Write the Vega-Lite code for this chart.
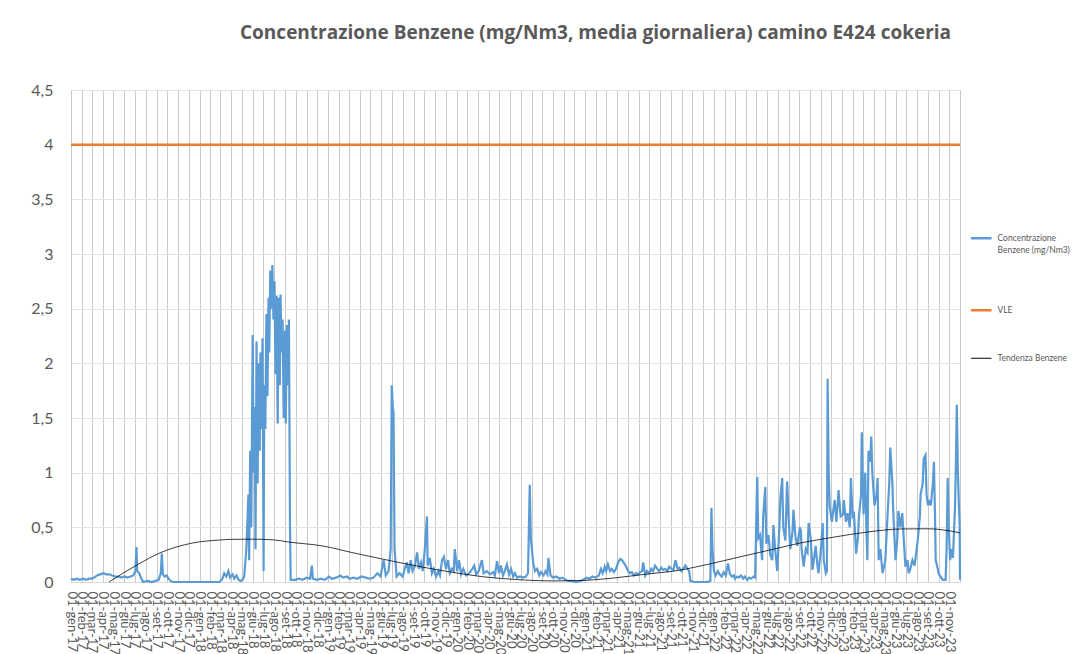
{
  "$schema": "https://vega.github.io/schema/vega-lite/v6.json",
  "autosize": {"type": "none"},
  "padding": {"left": 71, "top": 90, "right": 120, "bottom": 72},
  "width": 889,
  "height": 492,
  "background": "white",
  "title": {
    "text": "Concentrazione Benzene (mg/Nm3, media giornaliera) camino E424 cokeria",
    "anchor": "start", "frame": "group", "dx": 169, "offset": 24,
    "baseline": "alphabetic",
    "font": "Open Sans", "fontSize": 19, "fontWeight": "bold", "color": "#595959"
  },
  "datasets": {
    "misure": [
      {"data":"2017-01-01","valore":0.03},{"data":"2017-01-09","valore":0.02},{"data":"2017-01-17","valore":0.03},{"data":"2017-01-26","valore":0.02},
      {"data":"2017-02-04","valore":0.03},{"data":"2017-02-13","valore":0.02},{"data":"2017-02-21","valore":0.03},{"data":"2017-02-28","valore":0.03},
      {"data":"2017-03-08","valore":0.04},{"data":"2017-03-16","valore":0.06},{"data":"2017-03-25","valore":0.07},{"data":"2017-04-03","valore":0.08},
      {"data":"2017-04-11","valore":0.07},{"data":"2017-04-20","valore":0.07},{"data":"2017-04-28","valore":0.06},{"data":"2017-05-07","valore":0.05},
      {"data":"2017-05-15","valore":0.05},{"data":"2017-05-24","valore":0.04},{"data":"2017-06-02","valore":0.05},{"data":"2017-06-10","valore":0.04},
      {"data":"2017-06-19","valore":0.05},{"data":"2017-06-27","valore":0.06},{"data":"2017-07-03","valore":0.1},{"data":"2017-07-06","valore":0.32},
      {"data":"2017-07-08","valore":0.1},{"data":"2017-07-14","valore":0.08},{"data":"2017-07-20","valore":0.03},{"data":"2017-07-25","valore":0.0},
      {"data":"2017-08-06","valore":0.01},{"data":"2017-08-18","valore":0.0},{"data":"2017-08-29","valore":0.01},{"data":"2017-09-07","valore":0.02},
      {"data":"2017-09-13","valore":0.08},{"data":"2017-09-16","valore":0.26},{"data":"2017-09-19","valore":0.07},{"data":"2017-09-24","valore":0.05},
      {"data":"2017-09-30","valore":0.06},{"data":"2017-10-05","valore":0.03},{"data":"2017-10-11","valore":0.01},{"data":"2017-10-17","valore":0.0},
      {"data":"2017-11-06","valore":0.0},{"data":"2017-12-04","valore":0.0},{"data":"2018-01-02","valore":0.0},{"data":"2018-01-30","valore":0.0},
      {"data":"2018-02-27","valore":0.0},{"data":"2018-03-07","valore":0.03},{"data":"2018-03-12","valore":0.08},{"data":"2018-03-18","valore":0.05},
      {"data":"2018-03-24","valore":0.1},{"data":"2018-03-29","valore":0.04},{"data":"2018-04-05","valore":0.07},{"data":"2018-04-10","valore":0.03},
      {"data":"2018-04-16","valore":0.06},{"data":"2018-04-22","valore":0.02},{"data":"2018-04-27","valore":0.01},{"data":"2018-05-03","valore":0.02},
      {"data":"2018-05-08","valore":0.05},{"data":"2018-05-14","valore":0.3},{"data":"2018-05-20","valore":0.8},{"data":"2018-05-22","valore":0.2},
      {"data":"2018-05-25","valore":1.2},{"data":"2018-05-28","valore":0.5},{"data":"2018-06-01","valore":2.26},{"data":"2018-06-04","valore":1.0},
      {"data":"2018-06-07","valore":1.6},{"data":"2018-06-09","valore":0.3},{"data":"2018-06-12","valore":2.2},{"data":"2018-06-15","valore":0.9},
      {"data":"2018-06-18","valore":2.0},{"data":"2018-06-21","valore":1.2},{"data":"2018-06-23","valore":2.1},{"data":"2018-06-26","valore":1.4},
      {"data":"2018-06-29","valore":2.23},{"data":"2018-07-02","valore":0.1},{"data":"2018-07-04","valore":1.8},{"data":"2018-07-07","valore":1.4},
      {"data":"2018-07-10","valore":2.45},{"data":"2018-07-13","valore":1.7},{"data":"2018-07-16","valore":2.6},{"data":"2018-07-18","valore":2.1},
      {"data":"2018-07-21","valore":2.85},{"data":"2018-07-24","valore":2.5},{"data":"2018-07-27","valore":2.9},{"data":"2018-07-30","valore":2.4},
      {"data":"2018-08-02","valore":2.75},{"data":"2018-08-05","valore":1.9},{"data":"2018-08-08","valore":2.62},{"data":"2018-08-11","valore":1.45},
      {"data":"2018-08-14","valore":2.6},{"data":"2018-08-17","valore":1.8},{"data":"2018-08-19","valore":2.63},{"data":"2018-08-22","valore":2.1},
      {"data":"2018-08-25","valore":2.4},{"data":"2018-08-28","valore":1.5},{"data":"2018-09-01","valore":2.3},{"data":"2018-09-03","valore":1.45},
      {"data":"2018-09-06","valore":2.35},{"data":"2018-09-09","valore":1.8},{"data":"2018-09-12","valore":2.4},{"data":"2018-09-15","valore":0.5},
      {"data":"2018-09-17","valore":0.02},{"data":"2018-09-29","valore":0.02},{"data":"2018-10-10","valore":0.03},{"data":"2018-10-21","valore":0.02},
      {"data":"2018-11-02","valore":0.04},{"data":"2018-11-11","valore":0.03},{"data":"2018-11-16","valore":0.15},{"data":"2018-11-19","valore":0.03},
      {"data":"2018-11-30","valore":0.02},{"data":"2018-12-11","valore":0.03},{"data":"2018-12-23","valore":0.02},{"data":"2019-01-04","valore":0.05},
      {"data":"2019-01-12","valore":0.03},{"data":"2019-01-24","valore":0.04},{"data":"2019-02-05","valore":0.06},{"data":"2019-02-13","valore":0.04},
      {"data":"2019-02-24","valore":0.05},{"data":"2019-03-03","valore":0.03},{"data":"2019-03-14","valore":0.04},{"data":"2019-03-25","valore":0.03},
      {"data":"2019-04-06","valore":0.05},{"data":"2019-04-18","valore":0.04},{"data":"2019-04-29","valore":0.03},{"data":"2019-05-10","valore":0.04},
      {"data":"2019-05-21","valore":0.08},{"data":"2019-05-30","valore":0.05},{"data":"2019-06-08","valore":0.2},{"data":"2019-06-14","valore":0.06},
      {"data":"2019-06-22","valore":0.1},{"data":"2019-06-28","valore":0.3},{"data":"2019-07-01","valore":1.8},{"data":"2019-07-04","valore":1.6},
      {"data":"2019-07-06","valore":1.55},{"data":"2019-07-09","valore":0.3},{"data":"2019-07-15","valore":0.05},{"data":"2019-07-23","valore":0.08},
      {"data":"2019-08-01","valore":0.05},{"data":"2019-08-07","valore":0.12},{"data":"2019-08-13","valore":0.18},{"data":"2019-08-18","valore":0.08},
      {"data":"2019-08-24","valore":0.2},{"data":"2019-08-29","valore":0.1},{"data":"2019-09-05","valore":0.15},{"data":"2019-09-11","valore":0.27},
      {"data":"2019-09-16","valore":0.12},{"data":"2019-09-22","valore":0.18},{"data":"2019-09-27","valore":0.1},{"data":"2019-10-03","valore":0.3},
      {"data":"2019-10-09","valore":0.6},{"data":"2019-10-11","valore":0.15},{"data":"2019-10-17","valore":0.22},{"data":"2019-10-23","valore":0.08},
      {"data":"2019-10-28","valore":0.12},{"data":"2019-11-04","valore":0.05},{"data":"2019-11-10","valore":0.1},{"data":"2019-11-15","valore":0.06},
      {"data":"2019-11-21","valore":0.2},{"data":"2019-11-26","valore":0.23},{"data":"2019-12-02","valore":0.12},{"data":"2019-12-08","valore":0.2},
      {"data":"2019-12-13","valore":0.08},{"data":"2019-12-19","valore":0.12},{"data":"2019-12-24","valore":0.1},{"data":"2019-12-27","valore":0.3},
      {"data":"2020-01-03","valore":0.1},{"data":"2020-01-08","valore":0.2},{"data":"2020-01-14","valore":0.07},{"data":"2020-01-20","valore":0.12},
      {"data":"2020-01-28","valore":0.06},{"data":"2020-02-06","valore":0.08},{"data":"2020-02-15","valore":0.12},{"data":"2020-02-20","valore":0.15},
      {"data":"2020-02-26","valore":0.07},{"data":"2020-03-04","valore":0.1},{"data":"2020-03-13","valore":0.2},{"data":"2020-03-18","valore":0.08},
      {"data":"2020-03-27","valore":0.1},{"data":"2020-04-05","valore":0.07},{"data":"2020-04-14","valore":0.09},{"data":"2020-04-19","valore":0.06},
      {"data":"2020-04-25","valore":0.19},{"data":"2020-05-01","valore":0.08},{"data":"2020-05-06","valore":0.15},{"data":"2020-05-12","valore":0.06},
      {"data":"2020-05-17","valore":0.1},{"data":"2020-05-23","valore":0.16},{"data":"2020-05-29","valore":0.07},{"data":"2020-06-04","valore":0.12},
      {"data":"2020-06-10","valore":0.05},{"data":"2020-06-15","valore":0.08},{"data":"2020-06-21","valore":0.04},{"data":"2020-06-29","valore":0.05},
      {"data":"2020-07-08","valore":0.04},{"data":"2020-07-16","valore":0.05},{"data":"2020-07-22","valore":0.08},{"data":"2020-07-27","valore":0.89},
      {"data":"2020-07-30","valore":0.4},{"data":"2020-08-06","valore":0.17},{"data":"2020-08-11","valore":0.1},{"data":"2020-08-17","valore":0.12},
      {"data":"2020-08-23","valore":0.06},{"data":"2020-08-28","valore":0.09},{"data":"2020-09-04","valore":0.06},{"data":"2020-09-10","valore":0.1},
      {"data":"2020-09-15","valore":0.07},{"data":"2020-09-18","valore":0.22},{"data":"2020-09-24","valore":0.06},{"data":"2020-10-02","valore":0.04},
      {"data":"2020-10-10","valore":0.05},{"data":"2020-10-19","valore":0.03},{"data":"2020-10-27","valore":0.04},{"data":"2020-11-06","valore":0.02},
      {"data":"2020-11-14","valore":0.01},{"data":"2020-11-25","valore":0.01},{"data":"2020-12-06","valore":0.0},{"data":"2020-12-18","valore":0.01},
      {"data":"2020-12-26","valore":0.02},{"data":"2021-01-04","valore":0.04},{"data":"2021-01-13","valore":0.03},{"data":"2021-01-21","valore":0.05},
      {"data":"2021-01-30","valore":0.04},{"data":"2021-02-08","valore":0.06},{"data":"2021-02-14","valore":0.12},{"data":"2021-02-19","valore":0.08},
      {"data":"2021-02-25","valore":0.14},{"data":"2021-03-01","valore":0.1},{"data":"2021-03-06","valore":0.16},{"data":"2021-03-12","valore":0.1},
      {"data":"2021-03-17","valore":0.12},{"data":"2021-03-23","valore":0.09},{"data":"2021-03-29","valore":0.12},{"data":"2021-04-04","valore":0.18},
      {"data":"2021-04-10","valore":0.21},{"data":"2021-04-15","valore":0.2},{"data":"2021-04-21","valore":0.17},{"data":"2021-04-27","valore":0.14},
      {"data":"2021-05-02","valore":0.1},{"data":"2021-05-08","valore":0.08},{"data":"2021-05-13","valore":0.09},{"data":"2021-05-19","valore":0.06},
      {"data":"2021-05-25","valore":0.08},{"data":"2021-05-30","valore":0.07},{"data":"2021-06-06","valore":0.09},{"data":"2021-06-11","valore":0.1},
      {"data":"2021-06-14","valore":0.18},{"data":"2021-06-20","valore":0.06},{"data":"2021-06-25","valore":0.1},{"data":"2021-07-01","valore":0.08},
      {"data":"2021-07-07","valore":0.12},{"data":"2021-07-12","valore":0.1},{"data":"2021-07-18","valore":0.15},{"data":"2021-07-24","valore":0.12},
      {"data":"2021-07-29","valore":0.1},{"data":"2021-08-05","valore":0.13},{"data":"2021-08-10","valore":0.11},{"data":"2021-08-16","valore":0.12},
      {"data":"2021-08-22","valore":0.1},{"data":"2021-08-27","valore":0.14},{"data":"2021-09-03","valore":0.12},{"data":"2021-09-08","valore":0.11},
      {"data":"2021-09-14","valore":0.2},{"data":"2021-09-20","valore":0.12},{"data":"2021-09-25","valore":0.13},{"data":"2021-10-01","valore":0.1},
      {"data":"2021-10-06","valore":0.12},{"data":"2021-10-12","valore":0.15},{"data":"2021-10-18","valore":0.12},{"data":"2021-10-23","valore":0.1},
      {"data":"2021-10-26","valore":0.01},{"data":"2021-11-05","valore":0.0},{"data":"2021-11-24","valore":0.0},{"data":"2021-12-14","valore":0.0},
      {"data":"2021-12-22","valore":0.01},{"data":"2021-12-25","valore":0.68},{"data":"2021-12-28","valore":0.3},{"data":"2022-01-01","valore":0.1},
      {"data":"2022-01-06","valore":0.06},{"data":"2022-01-12","valore":0.1},{"data":"2022-01-17","valore":0.07},{"data":"2022-01-23","valore":0.05},
      {"data":"2022-01-29","valore":0.09},{"data":"2022-02-04","valore":0.06},{"data":"2022-02-10","valore":0.17},{"data":"2022-02-15","valore":0.08},
      {"data":"2022-02-21","valore":0.05},{"data":"2022-02-27","valore":0.06},{"data":"2022-03-02","valore":0.03},{"data":"2022-03-08","valore":0.05},
      {"data":"2022-03-13","valore":0.04},{"data":"2022-03-19","valore":0.06},{"data":"2022-03-25","valore":0.03},{"data":"2022-03-30","valore":0.05},
      {"data":"2022-04-06","valore":0.02},{"data":"2022-04-11","valore":0.04},{"data":"2022-04-17","valore":0.03},{"data":"2022-04-23","valore":0.05},
      {"data":"2022-04-28","valore":0.04},{"data":"2022-05-04","valore":0.96},{"data":"2022-05-07","valore":0.4},{"data":"2022-05-12","valore":0.43},
      {"data":"2022-05-18","valore":0.2},{"data":"2022-05-21","valore":0.6},{"data":"2022-05-27","valore":0.87},{"data":"2022-05-30","valore":0.35},
      {"data":"2022-06-05","valore":0.43},{"data":"2022-06-10","valore":0.25},{"data":"2022-06-16","valore":0.2},{"data":"2022-06-19","valore":0.52},
      {"data":"2022-06-24","valore":0.3},{"data":"2022-06-30","valore":0.1},{"data":"2022-07-06","valore":0.5},{"data":"2022-07-09","valore":0.78},
      {"data":"2022-07-14","valore":0.95},{"data":"2022-07-17","valore":0.5},{"data":"2022-07-23","valore":0.38},{"data":"2022-07-28","valore":0.92},
      {"data":"2022-08-01","valore":0.6},{"data":"2022-08-06","valore":0.3},{"data":"2022-08-12","valore":0.45},{"data":"2022-08-15","valore":0.66},
      {"data":"2022-08-21","valore":0.4},{"data":"2022-08-26","valore":0.33},{"data":"2022-09-02","valore":0.5},{"data":"2022-09-05","valore":0.47},
      {"data":"2022-09-07","valore":0.3},{"data":"2022-09-13","valore":0.14},{"data":"2022-09-19","valore":0.3},{"data":"2022-09-24","valore":0.27},
      {"data":"2022-09-27","valore":0.54},{"data":"2022-10-03","valore":0.4},{"data":"2022-10-08","valore":0.11},{"data":"2022-10-14","valore":0.25},
      {"data":"2022-10-17","valore":0.33},{"data":"2022-10-22","valore":0.15},{"data":"2022-10-25","valore":0.08},{"data":"2022-11-01","valore":0.3},
      {"data":"2022-11-06","valore":0.54},{"data":"2022-11-09","valore":0.2},{"data":"2022-11-15","valore":0.08},{"data":"2022-11-18","valore":0.1},
      {"data":"2022-11-20","valore":1.86},{"data":"2022-11-23","valore":1.0},{"data":"2022-11-26","valore":0.69},{"data":"2022-12-02","valore":0.55},
      {"data":"2022-12-04","valore":0.6},{"data":"2022-12-10","valore":0.75},{"data":"2022-12-15","valore":0.55},{"data":"2022-12-21","valore":0.84},
      {"data":"2022-12-27","valore":0.6},{"data":"2023-01-03","valore":0.62},{"data":"2023-01-05","valore":0.75},{"data":"2023-01-11","valore":0.55},
      {"data":"2023-01-16","valore":0.63},{"data":"2023-01-22","valore":0.5},{"data":"2023-01-25","valore":0.95},{"data":"2023-01-30","valore":0.6},
      {"data":"2023-02-03","valore":0.62},{"data":"2023-02-09","valore":0.26},{"data":"2023-02-14","valore":0.4},{"data":"2023-02-17","valore":0.6},
      {"data":"2023-02-23","valore":0.8},{"data":"2023-02-25","valore":1.37},{"data":"2023-02-28","valore":0.9},{"data":"2023-03-02","valore":0.62},
      {"data":"2023-03-07","valore":1.0},{"data":"2023-03-10","valore":0.5},{"data":"2023-03-13","valore":0.2},{"data":"2023-03-16","valore":1.2},
      {"data":"2023-03-21","valore":1.1},{"data":"2023-03-24","valore":1.33},{"data":"2023-03-27","valore":1.0},{"data":"2023-04-02","valore":0.7},
      {"data":"2023-04-08","valore":0.8},{"data":"2023-04-11","valore":0.95},{"data":"2023-04-14","valore":0.2},{"data":"2023-04-19","valore":0.3},
      {"data":"2023-04-25","valore":0.08},{"data":"2023-04-30","valore":0.15},{"data":"2023-05-03","valore":0.2},{"data":"2023-05-09","valore":0.6},
      {"data":"2023-05-14","valore":0.9},{"data":"2023-05-17","valore":1.23},{"data":"2023-05-23","valore":0.9},{"data":"2023-05-25","valore":0.67},
      {"data":"2023-06-01","valore":0.2},{"data":"2023-06-06","valore":0.4},{"data":"2023-06-09","valore":0.65},{"data":"2023-06-15","valore":0.5},
      {"data":"2023-06-20","valore":0.63},{"data":"2023-06-26","valore":0.3},{"data":"2023-06-29","valore":0.14},{"data":"2023-07-05","valore":0.2},
      {"data":"2023-07-08","valore":0.08},{"data":"2023-07-13","valore":0.12},{"data":"2023-07-19","valore":0.2},{"data":"2023-07-25","valore":0.15},
      {"data":"2023-08-03","valore":0.38},{"data":"2023-08-09","valore":0.6},{"data":"2023-08-11","valore":0.8},{"data":"2023-08-17","valore":0.9},
      {"data":"2023-08-20","valore":1.13},{"data":"2023-08-25","valore":1.16},{"data":"2023-08-28","valore":0.8},{"data":"2023-09-01","valore":0.7},
      {"data":"2023-09-06","valore":0.75},{"data":"2023-09-09","valore":0.7},{"data":"2023-09-15","valore":0.9},{"data":"2023-09-18","valore":1.1},
      {"data":"2023-09-21","valore":0.6},{"data":"2023-09-23","valore":0.2},{"data":"2023-09-29","valore":0.12},{"data":"2023-10-01","valore":0.08},
      {"data":"2023-10-07","valore":0.05},{"data":"2023-10-13","valore":0.02},{"data":"2023-10-21","valore":0.02},{"data":"2023-10-24","valore":0.3},
      {"data":"2023-10-27","valore":0.95},{"data":"2023-10-30","valore":0.5},{"data":"2023-11-03","valore":0.2},{"data":"2023-11-08","valore":0.3},
      {"data":"2023-11-11","valore":0.22},{"data":"2023-11-17","valore":0.7},{"data":"2023-11-20","valore":1.2},{"data":"2023-11-22","valore":1.62},
      {"data":"2023-11-25","valore":1.0},{"data":"2023-11-28","valore":0.7},{"data":"2023-11-30","valore":0.5},{"data":"2023-12-01","valore":0.02}
    ],
    "vle": [
      {"data":"2017-01-01","valore":4},{"data":"2023-12-01","valore":4}
    ],
    "tendenza": [
      {"data":"2017-04-19","valore":0.0},{"data":"2017-07-07","valore":0.155},{"data":"2017-09-10","valore":0.265},
      {"data":"2017-12-13","valore":0.357},{"data":"2018-02-27","valore":0.384},{"data":"2018-04-01","valore":0.39},
      {"data":"2018-06-01","valore":0.392},{"data":"2018-08-01","valore":0.385},{"data":"2018-09-10","valore":0.366},
      {"data":"2018-12-16","valore":0.33},{"data":"2019-03-16","valore":0.265},{"data":"2019-06-19","valore":0.2},
      {"data":"2019-09-25","valore":0.137},{"data":"2019-12-28","valore":0.085},{"data":"2020-03-16","valore":0.048},
      {"data":"2020-06-22","valore":0.022},{"data":"2020-09-25","valore":0.01},{"data":"2020-12-28","valore":0.015},
      {"data":"2021-04-01","valore":0.04},{"data":"2021-07-01","valore":0.075},{"data":"2021-09-10","valore":0.1},
      {"data":"2021-12-13","valore":0.16},{"data":"2022-03-16","valore":0.23},{"data":"2022-06-19","valore":0.3},
      {"data":"2022-09-04","valore":0.357},{"data":"2022-12-07","valore":0.41},{"data":"2023-03-13","valore":0.457},
      {"data":"2023-06-16","valore":0.485},{"data":"2023-09-01","valore":0.487},{"data":"2023-12-01","valore":0.45}
    ]
  },
  "encoding": {
    "x": {
      "field": "data", "type": "temporal",
      "scale": {"type": "utc", "domain": [{"year": 2017, "month": 1, "date": 1, "utc": true}, {"year": 2023, "month": 12, "date": 1, "utc": true}]},
      "axis": {
        "title": null,
        "tickCount": {"interval": "month", "step": 1},
        "labelExpr": "(utcyear(datum.value) == 2023 && utcmonth(datum.value) == 11) ? '' : '01-' + ['gen','feb','mar','apr','mag','giu','lug','ago','set','ott','nov','dic'][utcmonth(datum.value)] + '-' + utcFormat(datum.value, '%y')",
        "labelAngle": 90, "labelAlign": "left", "labelBaseline": "middle",
        "labelFont": "Lato", "labelFontSize": 13, "labelColor": "#595959",
        "labelOverlap": false, "labelBound": false, "labelFlush": false, "labelPadding": 9,
        "ticks": false, "domainColor": "#d9d9d9", "grid": true, "gridColor": "#c9c9c9"
      }
    },
    "y": {
      "field": "valore", "type": "quantitative",
      "scale": {"domain": [0, 4.5], "nice": false},
      "axis": {
        "title": null,
        "values": [0, 0.5, 1, 1.5, 2, 2.5, 3, 3.5, 4, 4.5],
        "labelExpr": "replace(format(datum.value, '~g'), '.', ',')",
        "labelFont": "Lato", "labelFontSize": 16, "labelColor": "#595959", "labelPadding": 18,
        "ticks": false, "domain": false, "grid": true, "gridColor": "#e3e3e3"
      }
    }
  },
  "layer": [
    {
      "data": {"name": "misure"},
      "mark": {"type": "line", "strokeWidth": 2.2},
      "encoding": {
        "color": {
          "datum": "Concentrazione Benzene (mg/Nm3)",
          "scale": {"domain": ["Concentrazione Benzene (mg/Nm3)", "VLE", "Tendenza Benzene"], "range": ["#5b9bd5", "#ed7d31", "#000000"]},
          "legend": {
            "title": null, "orient": "none", "legendX": 906, "legendY": 144,
            "symbolType": "stroke", "symbolSize": 420, "symbolStrokeWidth": 2.5,
            "labelFont": "Lato", "labelFontSize": 8.5, "labelColor": "#595959", "labelOffset": 12, "labelLimit": 200,
            "rowPadding": 38,
            "labelExpr": "datum.label == 'Concentrazione Benzene (mg/Nm3)' ? ['Concentrazione', 'Benzene (mg/Nm3)', ''] : datum.label",
            "encode": {
              "symbols": {"update": {"strokeWidth": {"signal": "datum.label == 'Tendenza Benzene' ? 1 : 2.5"}}},
              "labels": {"update": {"lineHeight": {"value": 12}}}
            }
          }
        }
      }
    },
    {
      "data": {"name": "vle"},
      "mark": {"type": "line", "strokeWidth": 2.5},
      "encoding": {"color": {"datum": "VLE"}}
    },
    {
      "data": {"name": "tendenza"},
      "mark": {"type": "line", "strokeWidth": 0.9, "interpolate": "monotone", "opacity": 0.85},
      "encoding": {"color": {"datum": "Tendenza Benzene"}}
    }
  ],
  "config": {
    "view": {"stroke": null}
  }
}
